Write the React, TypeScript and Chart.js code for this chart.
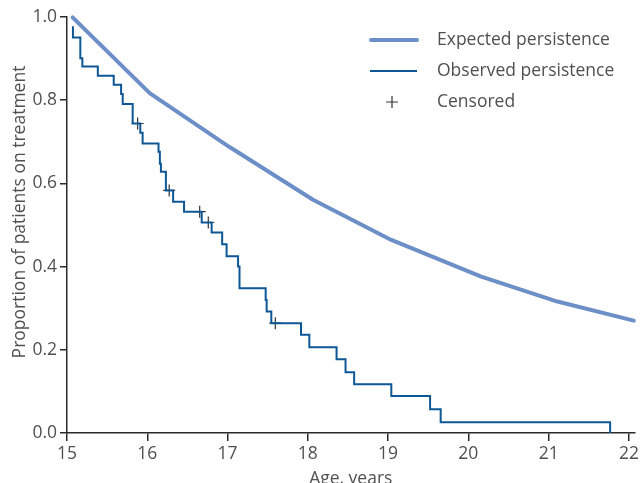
import React, { useEffect, useRef } from 'react';
import { Chart, registerables } from 'chart.js';

Chart.register(...registerables);

// ---- data ----
const xTicks = [15, 16, 17, 18, 19, 20, 21, 22];
const yTicks = [0, 0.2, 0.4, 0.6, 0.8, 1.0];

const expectedAge = [15.07, 16.03, 17.02, 18.07, 19.04, 20.16, 21.11, 22.06];
const expectedValue = [0.999, 0.817, 0.688, 0.56, 0.464, 0.376, 0.316, 0.27];

const observedAge = [
  15.074, 15.074, 15.166, 15.191, 15.384, 15.582, 15.674, 15.694, 15.818, 15.913,
  15.942, 16.14, 16.157, 16.17, 16.232, 16.322, 16.458, 16.678, 16.802, 16.933,
  16.988, 17.131, 17.149, 17.475, 17.487, 17.545, 17.915, 18.019, 18.358, 18.47,
  18.577, 19.04, 19.523, 19.655, 21.766,
];
const observedValue = [
  0.978, 0.951, 0.901, 0.881, 0.859, 0.837, 0.815, 0.791, 0.744, 0.722,
  0.696, 0.676, 0.647, 0.628, 0.583, 0.556, 0.532, 0.506, 0.482, 0.454,
  0.425, 0.4, 0.348, 0.32, 0.292, 0.264, 0.236, 0.206, 0.177, 0.146,
  0.117, 0.089, 0.057, 0.026, 0.0,
];

const censoredAge = [15.88, 16.273, 16.653, 16.76, 17.595];
const censoredValue = [0.744, 0.583, 0.532, 0.506, 0.264];

const legendLabels = ['Expected persistence', 'Observed persistence', 'Censored'];
const xTitle = 'Age, years';
const yTitle = 'Proportion of patients on treatment';

// ---- styles ----
const EXP_COLOR = '#6b8fc6';
const OBS_COLOR = '#0d5796';
const CENSOR_COLOR = '#333333';
const TEXT_COLOR = '#505050';
const AXIS_COLOR = '#2a2a2a';
const FONT = "'Open Sans', 'DejaVu Sans', sans-serif";
const FS = 17.5;

const overlayPlugin = {
  id: 'overlay',
  afterDraw(chart: any) {
    const ctx = chart.ctx as CanvasRenderingContext2D;
    ctx.save();
    // legend
    ctx.font = `${FS}px ${FONT}`;
    ctx.fillStyle = TEXT_COLOR;
    ctx.textBaseline = 'middle';
    ctx.textAlign = 'left';
    const rows = [40, 71, 102];
    ctx.lineCap = 'round';
    ctx.strokeStyle = EXP_COLOR;
    ctx.lineWidth = 4;
    ctx.beginPath();
    ctx.moveTo(371, rows[0]);
    ctx.lineTo(417, rows[0]);
    ctx.stroke();
    ctx.lineCap = 'butt';
    ctx.strokeStyle = OBS_COLOR;
    ctx.lineWidth = 2;
    ctx.beginPath();
    ctx.moveTo(370, rows[1]);
    ctx.lineTo(417, rows[1]);
    ctx.stroke();
    ctx.strokeStyle = CENSOR_COLOR;
    ctx.lineWidth = 1.2;
    ctx.beginPath();
    ctx.moveTo(386, rows[2]);
    ctx.lineTo(398, rows[2]);
    ctx.moveTo(392, rows[2] - 6);
    ctx.lineTo(392, rows[2] + 6);
    ctx.stroke();
    legendLabels.forEach((t, i) => ctx.fillText(t, 437, rows[i]));
    // y title
    ctx.translate(20, 212);
    ctx.rotate(-Math.PI / 2);
    ctx.textAlign = 'center';
    ctx.fillText(yTitle, 0, 0);
    ctx.restore();
  },
};

export default function App() {
  const ref = useRef<HTMLCanvasElement | null>(null);
  useEffect(() => {
    if (!ref.current) return;
    const chart = new Chart(ref.current, {
      type: 'line',
      data: {
        datasets: [
          {
            label: legendLabels[0],
            data: expectedAge.map((x, i) => ({ x, y: expectedValue[i] })),
            borderColor: EXP_COLOR,
            borderWidth: 4,
            pointRadius: 0,
            tension: 0,
            clip: false,
            borderCapStyle: 'round',
            borderJoinStyle: 'round',
          } as any,
          {
            label: legendLabels[1],
            data: observedAge.map((x, i) => ({ x, y: observedValue[i] })),
            borderColor: OBS_COLOR,
            borderWidth: 2,
            pointRadius: 0,
            stepped: 'before',
            clip: false,
          } as any,
          {
            label: legendLabels[2],
            type: 'scatter',
            data: censoredAge.map((x, i) => ({ x, y: censoredValue[i] })),
            pointStyle: 'cross',
            pointRadius: 6,
            borderColor: CENSOR_COLOR,
            backgroundColor: CENSOR_COLOR,
            borderWidth: 1.2,
            showLine: false,
            clip: false,
          } as any,
        ],
      },
      options: {
        responsive: false,
        animation: false,
        events: [],
        layout: { padding: { left: 0, right: 2, top: 17, bottom: 0 } },
        plugins: { legend: { display: false }, tooltip: { enabled: false } },
        scales: {
          x: {
            type: 'linear',
            min: 15,
            max: 22.07,
            afterBuildTicks: (s: any) => {
              s.ticks = xTicks.map((v) => ({ value: v }));
            },
            afterFit: (s: any) => {
              s.height = 67;
            },
            ticks: {
              autoSkip: false,
              maxRotation: 0,
              padding: 3,
              color: TEXT_COLOR,
              font: { size: FS, family: FONT },
              callback: (v: any) => String(v),
            },
            grid: { drawOnChartArea: false, tickLength: 8, color: AXIS_COLOR, lineWidth: 1.5 },
            border: { color: AXIS_COLOR, width: 1.5 },
            title: {
              display: true,
              text: xTitle,
              color: TEXT_COLOR,
              font: { size: FS, family: FONT },
              padding: { top: 0, bottom: 10 },
            },
          },
          y: {
            type: 'linear',
            min: 0,
            max: 1,
            afterBuildTicks: (s: any) => {
              s.ticks = yTicks.map((v) => ({ value: v }));
            },
            afterFit: (s: any) => {
              s.width = 67;
            },
            ticks: {
              padding: 3,
              color: TEXT_COLOR,
              font: { size: FS, family: FONT },
              callback: (v: any) => Number(v).toFixed(1),
            },
            grid: { drawOnChartArea: false, tickLength: 7, color: AXIS_COLOR, lineWidth: 1.5 },
            border: { color: AXIS_COLOR, width: 1.5 },
          },
        },
      } as any,
      plugins: [overlayPlugin],
    });
    return () => chart.destroy();
  }, []);
  return (
    <div style={{ position: 'fixed', left: 0, top: 0, width: 642, height: 500, background: '#fff' }}>
      <canvas ref={ref} width={642} height={500} style={{ display: 'block' }} />
    </div>
  );
}
